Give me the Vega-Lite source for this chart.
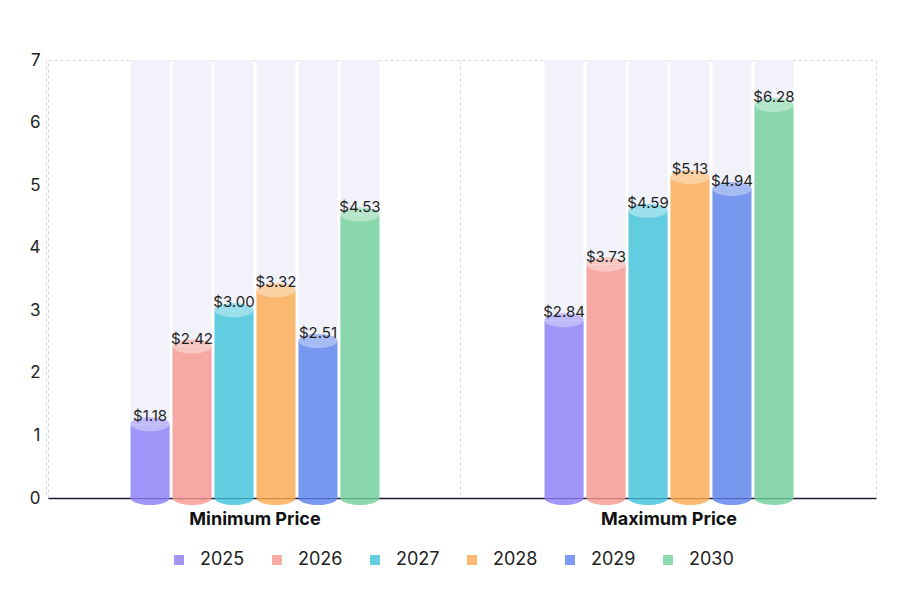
{
  "$schema": "https://vega.github.io/schema/vega-lite/v6.json",
  "width": 828,
  "height": 438,
  "autosize": {"type": "none"},
  "padding": {"left": 48, "top": 60, "right": 25, "bottom": 103},
  "background": "#ffffff",
  "config": {
    "font": "Inter",
    "view": {"stroke": "#d6d6d6", "strokeDash": [3, 3], "strokeWidth": 1}
  },
  "data": {
    "values": [
      {"category": "Minimum Price", "year": "2025", "price": 1.18},
      {"category": "Minimum Price", "year": "2026", "price": 2.42},
      {"category": "Minimum Price", "year": "2027", "price": 3.00},
      {"category": "Minimum Price", "year": "2028", "price": 3.32},
      {"category": "Minimum Price", "year": "2029", "price": 2.51},
      {"category": "Minimum Price", "year": "2030", "price": 4.53},
      {"category": "Maximum Price", "year": "2025", "price": 2.84},
      {"category": "Maximum Price", "year": "2026", "price": 3.73},
      {"category": "Maximum Price", "year": "2027", "price": 4.59},
      {"category": "Maximum Price", "year": "2028", "price": 5.13},
      {"category": "Maximum Price", "year": "2029", "price": 4.94},
      {"category": "Maximum Price", "year": "2030", "price": 6.28}
    ]
  },
  "encoding": {
    "x": {
      "field": "category",
      "type": "nominal",
      "sort": ["Minimum Price", "Maximum Price"],
      "scale": {"paddingInner": 0.196, "paddingOuter": 0.098},
      "axis": {
        "title": null,
        "labelAngle": 0,
        "labelFontSize": 18,
        "labelFontWeight": "bold",
        "labelColor": "#111111",
        "labelPadding": 12,
        "ticks": false,
        "domainColor": "#1c1c36",
        "domainWidth": 1.5,
        "grid": true,
        "gridColor": "#d6d6d6",
        "gridDash": [3, 3],
        "bandPosition": -0.125
      }
    },
    "xOffset": {
      "field": "year",
      "type": "nominal",
      "scale": {"paddingInner": 0.07, "paddingOuter": 1}
    }
  },
  "layer": [
    {
      "mark": {"type": "bar", "color": "#f1f2fa"},
      "encoding": {
        "y": {
          "datum": 7,
          "type": "quantitative",
          "scale": {"domain": [0, 7], "nice": false},
          "axis": {
            "title": null,
            "values": [0, 1, 2, 3, 4, 5, 6, 7],
            "format": "d",
            "grid": false,
            "domain": false,
            "ticks": false,
            "labelFontSize": 17,
            "labelColor": "#222222",
            "labelPadding": 8
          }
        },
        "y2": {"datum": 0}
      }
    },
    {
      "mark": {"type": "bar", "opacity": 0.8},
      "encoding": {
        "y": {"field": "price", "type": "quantitative"},
        "y2": {"datum": 0},
        "color": {
          "field": "year",
          "type": "nominal",
          "scale": {
            "range": ["#8b7cf6", "#f8968f", "#3fc2da", "#fca94d", "#5a80ec", "#70cf98"]
          },
          "legend": {
            "title": null,
            "orient": "none",
            "direction": "horizontal",
            "legendX": 122,
            "legendY": 491,
            "symbolType": "square",
            "symbolSize": 100,
            "symbolOpacity": 1,
            "symbolStrokeWidth": 0,
            "labelFontSize": 18,
            "labelColor": "#222222",
            "labelOffset": 12,
            "columnPadding": 23
          }
        }
      }
    },
    {
      "mark": {
        "type": "point",
        "filled": true,
        "opacity": 0.8,
        "size": 1521,
        "strokeWidth": 0,
        "shape": "M -1 0 A 1 0.36 0 0 0 1 0 Z"
      },
      "encoding": {
        "y": {"datum": 0},
        "color": {"field": "year", "type": "nominal"}
      }
    },
    {
      "mark": {
        "type": "point",
        "filled": true,
        "opacity": 0.8,
        "size": 1521,
        "strokeWidth": 0,
        "shape": "M -1 0 A 1 0.36 0 0 1 1 0 Z"
      },
      "encoding": {
        "y": {"field": "price", "type": "quantitative"},
        "color": {"field": "year", "type": "nominal"}
      }
    },
    {
      "mark": {
        "type": "point",
        "filled": true,
        "opacity": 0.35,
        "color": "#ffffff",
        "size": 1521,
        "strokeWidth": 0,
        "shape": "M -1 0 A 1 0.36 0 1 1 1 0 A 1 0.36 0 1 1 -1 0 Z"
      },
      "encoding": {
        "y": {"field": "price", "type": "quantitative"}
      }
    },
    {
      "mark": {
        "type": "text",
        "fontSize": 15,
        "color": "#1f1f1f",
        "baseline": "alphabetic",
        "dy": -3
      },
      "encoding": {
        "y": {"field": "price", "type": "quantitative"},
        "text": {"field": "price", "type": "quantitative", "format": "$.2f"}
      }
    }
  ]
}
